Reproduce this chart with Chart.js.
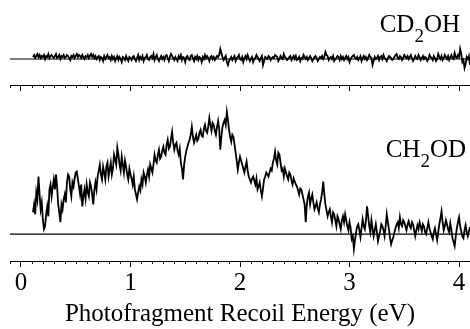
<!DOCTYPE html>
<html>
<head>
<meta charset="utf-8">
<script src="https://cdn.jsdelivr.net/npm/chart.js@4.4.0/dist/chart.umd.min.js"></script>
<style>
  body { margin: 0; background: #fff; }
  #wrap { position: relative; width: 470px; height: 329px; overflow: hidden; }
  #topBox { position: absolute; left: 0; top: 0; width: 470px; height: 95px; }
  #bottomBox { position: absolute; left: 0; top: 95px; width: 470px; height: 234px; }
  .lbl { position: absolute; font-family: "Liberation Serif"; font-size: 25px; line-height: 25px; color: #000; white-space: nowrap; }
  .lbl sub { font-size: 19px; line-height: 19px; vertical-align: -10px; }
</style>
</head>
<body>
<div id="wrap">
  <div id="topBox"><canvas id="topChart" width="470" height="95"></canvas></div>
  <div id="bottomBox"><canvas id="bottomChart" width="470" height="234"></canvas></div>
  <div class="lbl" style="right:10px; top:11px;">CD<sub>2</sub>OH</div>
  <div class="lbl" style="right:4px; top:136px;">CH<sub>2</sub>OD</div>
</div>
<script>
// sampling of the recoil energy axis (eV)
var energyStart = 0.11;
var energyStep = 0.01;

// CD2OH signal (arb. units), one value per energy step, 10 per row
var cd2oh = [
  2, 4, 1, 3, 5, 2, 4, 1, 3, 2,
  4, 0, 3, 2, 5, 1, 3, 4, 2, 1,
  3, 5, 1, 2, 4, 0, 3, 2, 4, 1,
  2, 4, 3, 1, -1, 3, 2, 4, 1, 3,
  5, 2, 4, 3, 1, 4, 2, 0, 3, 2,
  4, 1, 3, 5, 2, 4, 1, 3, 0, 2,
  3, -1, 2, 1, -2, 3, 0, 2, 4, 1,
  2, -1, 3, 0, 2, -2, 1, 3, -1, 2,
  0, -3, 2, 1, -1, 3, 0, -2, 2, 1,
  -1, 2, 3, 0, -2, 1, 4, -1, 2, 0,
  3, -2, 1, 2, 4, 0, -1, 2, 3, 1,
  5, -1, 2, 4, 0, -2, 1, 3, 0, 2,
  -1, 3, 4, 1, -2, 2, 5, 3, 1, -1,
  2, 0, -2, 3, 1, 4, -1, 2, 1, -3,
  2, 3, 0, -1, 3, 4, 1, -2, 2, 0,
  3, -1, 2, 1, -3, 2, 0, 4, 1, 3,
  1, -2, 2, 3, 0, 2, -1, 1, 3, 2,
  4, 10, 6, 2, -1, 1, 3, -3, -6, -2,
  0, 2, -1, 1, 3, -2, 1, 2, 4, 0,
  -1, 2, -3, 1, 3, 0, 4, 1, -2, 0,
  2, -3, 0, 1, 4, 2, 0, -2, 1, 3,
  -6, -2, 2, 1, 0, 3, 2, -1, 1, 2,
  1, 4, 3, 2, -2, 0, 3, 1, 0, 5,
  2, 1, -1, 0, 2, 3, -1, 1, 3, 0,
  3, -1, 0, 2, -2, 1, 0, 4, 2, 0,
  2, -1, 1, 3, 1, -2, 0, 2, 3, 1,
  -2, 0, 2, 1, 3, 0, 2, 7, 4, 3,
  -1, 1, 2, 0, 3, -2, 0, 1, 3, 2,
  -1, 3, 0, 2, -1, 1, 3, 0, 2, -3,
  0, 2, 3, 4, 1, 0, 2, -1, 1, 3,
  -2, 1, 3, 0, 2, -1, 1, 4, 2, 1,
  -6, -2, 2, 0, 1, 3, -1, 2, 3, 0,
  4, 1, 0, -2, 1, 3, 2, 1, -1, 0,
  2, 4, 5, 1, 0, 3, 2, -1, 1, 4,
  2, 1, 3, 0, 2, 4, 1, -2, 0, 3,
  1, 0, 4, 2, -1, 1, 3, 0, 2, 1,
  -2, 0, 4, 2, 1, -1, 3, 1, -2, 0,
  5, 2, 0, 3, -1, 1, 4, 2, 0, 3,
  -1, 2, 4, 1, 0, 6, 2, 1, 4, 2,
  10, 5, -3, -1, -9, -5, 2, 0, 3, -6
];

// CH2OD signal (arb. units)
var ch2od = [
  22, 30, 20, 42, 35, 58, 40, 25, 32, 15,
  5, 8, 20, 28, 18, 45, 50, 38, 47, 55,
  45, 60, 48, 30, 22, 12, 30, 25, 35, 40,
  32, 52, 60, 58, 45, 38, 52, 48, 56, 62,
  63, 55, 48, 40, 50, 28, 38, 45, 36, 50,
  42, 38, 52, 48, 40, 30, 44, 52, 45, 58,
  64, 70, 60, 55, 68, 62, 55, 68, 72, 58,
  65, 72, 60, 66, 80, 75, 70, 87, 80, 70,
  64, 78, 70, 62, 74, 68, 60, 55, 66, 60,
  56, 50, 58, 45, 40, 35, 42, 48, 44, 55,
  50, 62, 58, 52, 60, 65, 58, 70, 66, 62,
  70, 80, 74, 72, 80, 85, 76, 78, 84, 88,
  82, 80, 90, 95, 86, 88, 96, 103, 92, 85,
  90, 92, 84, 80, 86, 72, 66, 55, 70, 78,
  84, 88, 92, 95, 100, 108, 98, 92, 96, 100,
  94, 96, 102, 105, 99, 98, 106, 110, 104, 102,
  108, 117, 110, 104, 112, 110, 104, 100, 108, 114,
  106, 85, 98, 108, 112, 115, 110, 123, 115, 105,
  98, 93, 100, 98, 90, 82, 74, 65, 72, 78,
  74, 70, 66, 62, 68, 73, 64, 58, 55, 52,
  56, 58, 54, 50, 56, 45, 48, 52, 44, 38,
  46, 55, 58, 62, 60, 58, 62, 66, 64, 72,
  76, 83, 74, 70, 82, 80, 72, 64, 66, 58,
  66, 62, 58, 55, 62, 60, 54, 50, 56, 53,
  50, 48, 44, 40, 46, 45, 40, 35, 30, 12,
  30, 38, 42, 30, 36, 40, 32, 25, 28, 32,
  26, 22, 30, 35, 42, 53, 40, 30, 24, 18,
  22, 25, 18, 12, 22, 20, 14, 8, 18, 15,
  10, 5, 14, 18, 12, 20, 14, 8, 4, 12,
  6, -5, -2, -15, -6, 2, 8, 10, 4, -3,
  6, 15, 8, 5, 14, 28, 18, 8, 2, 14,
  6, -2, 4, 10, 2, -7, -2, 3, 10, 8,
  4, -2, 8, 20, 12, 5, -4, -10, -6, -3,
  2, 6, 10, 12, 6, 17, 10, 8, 14, 12,
  8, 4, 10, 13, 8, 6, 12, 10, 4, -2,
  4, 9, 5, 12, 8, 3, 10, 8, 2, 0,
  6, 12, 6, 2, -2, -5, 2, 6, 0, -6,
  2, 10, 16, 23, 12, 4, 8, 14, 10, 5,
  2, 11, 4, -4, -8, -12, -2, 6, 12, 17,
  8, 3, -2, -4, 4, 9, 2, -2, 3, 7
];

// zero line under each trace
var baseX = [-0.1, 4.1];
var baseY = [0, 0];

var xMin = -0.1, xMax = 4.1;

function points(vals) {
  return vals.map(function (v, i) {
    return { x: +(energyStart + energyStep * i).toFixed(2), y: v };
  });
}
function basePoints() {
  return baseX.map(function (x, i) { return { x: x, y: baseY[i] }; });
}

// small ticks every 0.1 eV, the library draws the 1 eV ones
var minorTicks = {
  id: 'minorTicks',
  afterDraw: function (chart) {
    var s = chart.scales.x, ctx = chart.ctx;
    ctx.save();
    ctx.strokeStyle = '#000';
    ctx.lineWidth = 1;
    ctx.beginPath();
    for (var k = -1; k <= 41; k++) {
      if (k % 10 === 0) continue;
      var px = Math.round(s.getPixelForValue(k / 10)) + 0.5;
      ctx.moveTo(px, s.top);
      ctx.lineTo(px, s.top + 3);
    }
    ctx.stroke();
    ctx.restore();
  }
};

Chart.defaults.font.family = '"Liberation Serif"';
Chart.defaults.color = '#000';

function makeChart(id, vals, yMin, yMax, withLabels, pad) {
  return new Chart(document.getElementById(id).getContext('2d'), {
    type: 'line',
    data: {
      datasets: [
        { data: basePoints(), borderColor: '#000', borderWidth: 1.2, pointRadius: 0 },
        { data: points(vals), borderColor: '#000', borderWidth: 1.8, pointRadius: 0, tension: 0 }
      ]
    },
    options: {
      responsive: false,
      animation: false,
      events: [],
      layout: { padding: pad },
      plugins: { legend: { display: false }, tooltip: { enabled: false } },
      scales: {
        x: {
          type: 'linear',
          min: xMin,
          max: xMax,
          border: { display: true, color: '#000', width: 1 },
          grid: { drawOnChartArea: false, drawTicks: true, tickLength: 6, color: '#000', tickColor: '#000' },
          ticks: {
            display: withLabels,
            stepSize: 1,
            includeBounds: false,
            autoSkip: false,
            maxRotation: 0,
            padding: 1,
            color: '#000',
            font: { size: 25 },
            callback: function (v) { return String(v); }
          },
          title: {
            display: withLabels,
            text: 'Photofragment Recoil Energy (eV)',
            color: '#000',
            font: { size: 25 },
            padding: { top: 0, bottom: 0 }
          }
        },
        y: { display: false, min: yMin, max: yMax }
      }
    },
    plugins: [minorTicks]
  });
}

var topChart = makeChart('topChart', cd2oh, -26, 19, false, { top: 40, left: 10, right: 0, bottom: 4 });
var bottomChart = makeChart('bottomChart', ch2od, -27, 135, true, { top: 5, left: 10, right: 0, bottom: 0 });
</script>
</body>
</html>
